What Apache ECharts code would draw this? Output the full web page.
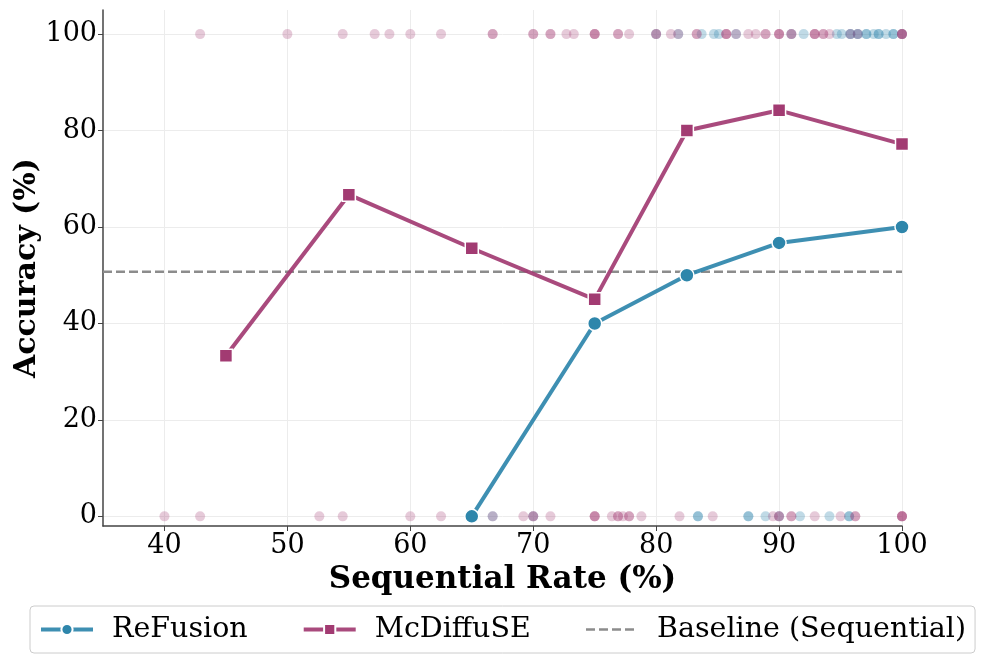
<!DOCTYPE html>
<html>
<head>
<meta charset="utf-8">
<script src="https://cdn.jsdelivr.net/npm/echarts@6/dist/echarts.min.js"></script>
<style>html,body{margin:0;padding:0;background:#fff}#c{width:986px;height:663px}</style>
</head>
<body>
<div id="c"></div>
<script>
// Line series
const refusionX = [65, 75, 82.5, 90, 100];
const refusionY = [0, 40, 50, 56.7, 60];
const mcdiffuseX = [45, 55, 65, 75, 82.5, 90, 100];
const mcdiffuseY = [33.3, 66.7, 55.6, 45, 80, 84.2, 77.2];
const baselineValue = 50.7;

// Per-sample results (accuracy 100 or 0) at each sequential rate
const refusionTop = [80, 81.8, 83.7, 84.7, 85.1, 86.5, 91, 92, 94.7, 95.1, 95.8, 95.8, 96.4, 96.4, 97.1, 97.1, 97.7, 98.1, 98.1, 98.7, 99.3, 99.3, 100];
const refusionBottom = [65, 66.7, 70, 83.4, 83.4, 87.5, 87.5, 88.9, 90, 91.7, 94.1, 95.7, 95.7];
const mcdiffuseTop = [42.9, 50, 54.5, 57.1, 58.3, 60, 62.5, 66.7, 66.7, 70, 70, 71.4, 71.4, 72.7, 73.3, 75, 75, 75, 76.9, 76.9, 77.8, 80, 80, 81.2, 81.8, 83.3, 83.3, 85.7, 85.7, 85.7, 86.5, 87.5, 88.1, 88.9, 88.9, 90, 90, 90, 91, 91, 92.9, 92.9, 92.9, 93.6, 93.6, 94.1, 95.8, 96.4, 100, 100, 100, 100];
const mcdiffuseBottom = [40, 42.9, 52.6, 54.5, 60, 62.5, 66.7, 69.2, 70, 70, 71.4, 75, 75, 75, 76.4, 76.9, 76.9, 77.3, 77.8, 77.8, 78.8, 81.9, 84.6, 89.5, 90, 90, 91, 91, 92.9, 95, 96.2, 96.2, 100, 100, 100, 100];

const xTicks = [40, 50, 60, 70, 80, 90, 100];
const yTicks = [0, 20, 40, 60, 80, 100];

const BLUE = '#2E86AB';
const MAG = '#A23B72';
const GRAY = '#8c8c8c';
const FONT = 'DejaVu Serif';

const pts = (xs, y) => xs.map(x => [x, y]);
const zip = (xs, ys) => xs.map((x, i) => [x, ys[i]]);

const chart = echarts.init(document.getElementById('c'), null, {renderer: 'canvas'});
chart.setOption({
  animation: false,
  textStyle: {fontFamily: FONT},
  grid: {left: 103, right: 84, top: 10, bottom: 137, containLabel: false, outerBoundsMode: 'none'},
  xAxis: {
    type: 'value', min: 35, max: 100,
    name: 'Sequential Rate (%)', nameLocation: 'middle', nameGap: 38,
    nameTextStyle: {fontFamily: FONT, fontSize: 31, fontWeight: 'bold', color: '#000'},
    axisLine: {show: true, onZero: false, lineStyle: {color: '#444', width: 1.5}},
    axisTick: {show: true, length: 5, lineStyle: {color: '#444'}, customValues: xTicks},
    axisLabel: {fontFamily: FONT, fontSize: 27, color: '#000', margin: 6, customValues: xTicks},
    splitLine: {show: true, lineStyle: {color: '#ececec', width: 1}}
  },
  yAxis: {
    type: 'value', min: -2, max: 105,
    name: 'Accuracy (%)', nameLocation: 'middle', nameGap: 61, nameRotate: 90, nameMoveOverlap: false,
    nameTextStyle: {fontFamily: FONT, fontSize: 30, fontWeight: 'bold', color: '#000'},
    axisLine: {show: true, onZero: false, lineStyle: {color: '#444', width: 1.5}},
    axisTick: {show: true, length: 5, lineStyle: {color: '#444'}, customValues: yTicks},
    axisLabel: {fontFamily: FONT, fontSize: 27, color: '#000', margin: 6, customValues: yTicks},
    splitLine: {show: true, lineStyle: {color: '#ececec', width: 1}}
  },
  legend: {
    bottom: 10, left: 30,
    data: [
      {name: 'ReFusion', lineStyle: {width: 4}},
      {name: 'McDiffuSE', lineStyle: {width: 4}},
      {name: 'Baseline (Sequential)', itemStyle: {opacity: 0}, lineStyle: {width: 2.5}}
    ],
    itemWidth: 52, itemHeight: 14, itemGap: 54,
    padding: [9, 9],
    borderColor: '#cccccc', borderWidth: 1, borderRadius: 4,
    textStyle: {fontFamily: FONT, fontSize: 28.5, color: '#000', padding: [0, 0, 0, 14]}
  },
  series: [
    {type: 'scatter', name: 'refTop', data: pts(refusionTop, 100), symbolSize: 10,
     itemStyle: {color: BLUE, opacity: 0.3}, silent: true, z: 1, clip: false},
    {type: 'scatter', name: 'refBot', data: pts(refusionBottom, 0), symbolSize: 10,
     itemStyle: {color: BLUE, opacity: 0.3}, silent: true, z: 1, clip: false},
    {type: 'scatter', name: 'mcTop', data: pts(mcdiffuseTop, 100), symbolSize: 10,
     itemStyle: {color: MAG, opacity: 0.27}, silent: true, z: 1, clip: false},
    {type: 'scatter', name: 'mcBot', data: pts(mcdiffuseBottom, 0), symbolSize: 10,
     itemStyle: {color: MAG, opacity: 0.27}, silent: true, z: 1, clip: false},
    {type: 'line', name: 'Baseline (Sequential)', data: [[35, baselineValue], [100, baselineValue]],
     symbol: 'none', lineStyle: {color: GRAY, width: 2.5, type: [9, 4]}, itemStyle: {color: GRAY}, z: 2},
    {type: 'line', name: 'ReFusion', data: zip(refusionX, refusionY),
     symbol: 'circle', symbolSize: 14, lineStyle: {color: BLUE, width: 4, opacity: 0.92},
     itemStyle: {color: BLUE, borderColor: '#fff', borderWidth: 1.5}, z: 3},
    {type: 'line', name: 'McDiffuSE', data: zip(mcdiffuseX, mcdiffuseY),
     symbol: 'rect', symbolSize: 13, lineStyle: {color: MAG, width: 4, opacity: 0.92},
     itemStyle: {color: MAG, borderColor: '#fff', borderWidth: 1.5}, z: 4}
  ]
});
</script>
</body>
</html>
